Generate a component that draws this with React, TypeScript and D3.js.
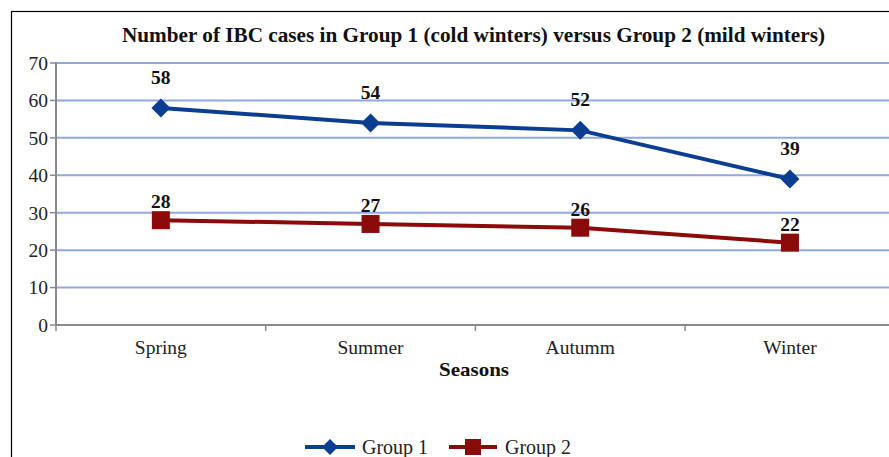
import React from 'react';
import * as d3 from 'd3';

const seasons = ['Spring', 'Summer', 'Autumm', 'Winter'];
const group1 = [58, 54, 52, 39];
const group2 = [28, 27, 26, 22];
const yTicks = [0, 10, 20, 30, 40, 50, 60, 70];

const W = 889;
const H = 457;
const FONT = '"Liberation Serif", "DejaVu Serif", serif';
const BLUE = '#0b3d91';
const RED = '#8b0a0a';

export default function App() {
  const left = 56;
  const band = 209.7;
  const x = d3.scaleBand<string>().domain(seasons).range([left, left + band * seasons.length]);
  const y = d3.scaleLinear().domain([0, 70]).range([325, 63]);
  const cx = (s: string) => (x(s) ?? 0) + x.bandwidth() / 2;

  const line = d3.line<number>()
    .x((_, i) => cx(seasons[i]))
    .y(d => y(d));

  const diamond = (px: number, py: number, r: number) =>
    `M${px},${py - r}L${px + r},${py}L${px},${py + r}L${px - r},${py}Z`;

  const xEnd = x.range()[1];
  const boundaries = d3.range(seasons.length + 1).map(i => left + band * i);

  const txt = { fontFamily: FONT };

  return (
    <svg width={W} height={H} style={{ position: 'absolute', left: 0, top: 0, background: '#fff' }}>
      <rect x={11.5} y={11.5} width={W + 20} height={H + 20} fill="#fff" stroke="#000" strokeWidth={1.2} />

      <text x={473.5} y={42} textAnchor="middle" fontSize={20} fontWeight="bold" fill="#111" style={txt}
        textLength={703} lengthAdjust="spacingAndGlyphs">
        Number of IBC cases in Group 1 (cold winters) versus Group 2 (mild winters)
      </text>

      {/* grid */}
      {yTicks.filter(t => t > 0).map(t => (
        <line key={t} x1={left} x2={xEnd} y1={y(t)} y2={y(t)} stroke="#8fa8e0" strokeWidth={2} />
      ))}

      {/* y axis */}
      <line x1={left} x2={left} y1={y(70) - 1} y2={y(0)} stroke="#8a8a8a" strokeWidth={2} />
      {yTicks.map(t => (
        <g key={t}>
          <line x1={left - 6} x2={left} y1={y(t)} y2={y(t)} stroke="#8a8a8a" strokeWidth={1.5} />
          <text x={left - 8} y={y(t)} dy="0.35em" textAnchor="end" fontSize={19.5} fill="#222" style={txt}>{t}</text>
        </g>
      ))}

      {/* x axis */}
      <line x1={left} x2={xEnd} y1={y(0)} y2={y(0)} stroke="#8a8a8a" strokeWidth={2} />
      {boundaries.map((b, i) => (
        <line key={i} x1={b} x2={b} y1={y(0)} y2={y(0) + 6} stroke="#8a8a8a" strokeWidth={1.5} />
      ))}
      {seasons.map(s => (
        <text key={s} x={cx(s)} y={354} textAnchor="middle" fontSize={19.5} fill="#222" style={txt}>{s}</text>
      ))}
      <text x={474} y={376} textAnchor="middle" fontSize={19.5} fontWeight="bold" fill="#111" style={txt}
        textLength={70} lengthAdjust="spacingAndGlyphs">Seasons</text>

      {/* Group 1 */}
      <path d={line(group1) ?? ''} fill="none" stroke={BLUE} strokeWidth={4} />
      {group1.map((v, i) => (
        <g key={i}>
          <path d={diamond(cx(seasons[i]), y(v), 9.5)} fill={BLUE} />
          <text x={cx(seasons[i])} y={y(v) - 24} textAnchor="middle" fontSize={19.5} fontWeight="bold" fill="#111" style={txt}>{v}</text>
        </g>
      ))}

      {/* Group 2 */}
      <path d={line(group2) ?? ''} fill="none" stroke={RED} strokeWidth={4} />
      {group2.map((v, i) => (
        <g key={i}>
          <rect x={cx(seasons[i]) - 9} y={y(v) - 9} width={18} height={18} fill={RED} />
          <text x={cx(seasons[i])} y={y(v) - 12} textAnchor="middle" fontSize={19.5} fontWeight="bold" fill="#111" style={txt}>{v}</text>
        </g>
      ))}

      {/* legend */}
      <line x1={305} x2={355} y1={447} y2={447} stroke={BLUE} strokeWidth={4} />
      <path d={diamond(330, 447, 8)} fill={BLUE} />
      <text x={362} y={447} dy="0.35em" fontSize={20} fill="#222" style={txt}>Group 1</text>
      <line x1={449} x2={497} y1={447} y2={447} stroke={RED} strokeWidth={4} />
      <rect x={465} y={439} width={16} height={16} fill={RED} />
      <text x={505} y={447} dy="0.35em" fontSize={20} fill="#222" style={txt}>Group 2</text>
    </svg>
  );
}
